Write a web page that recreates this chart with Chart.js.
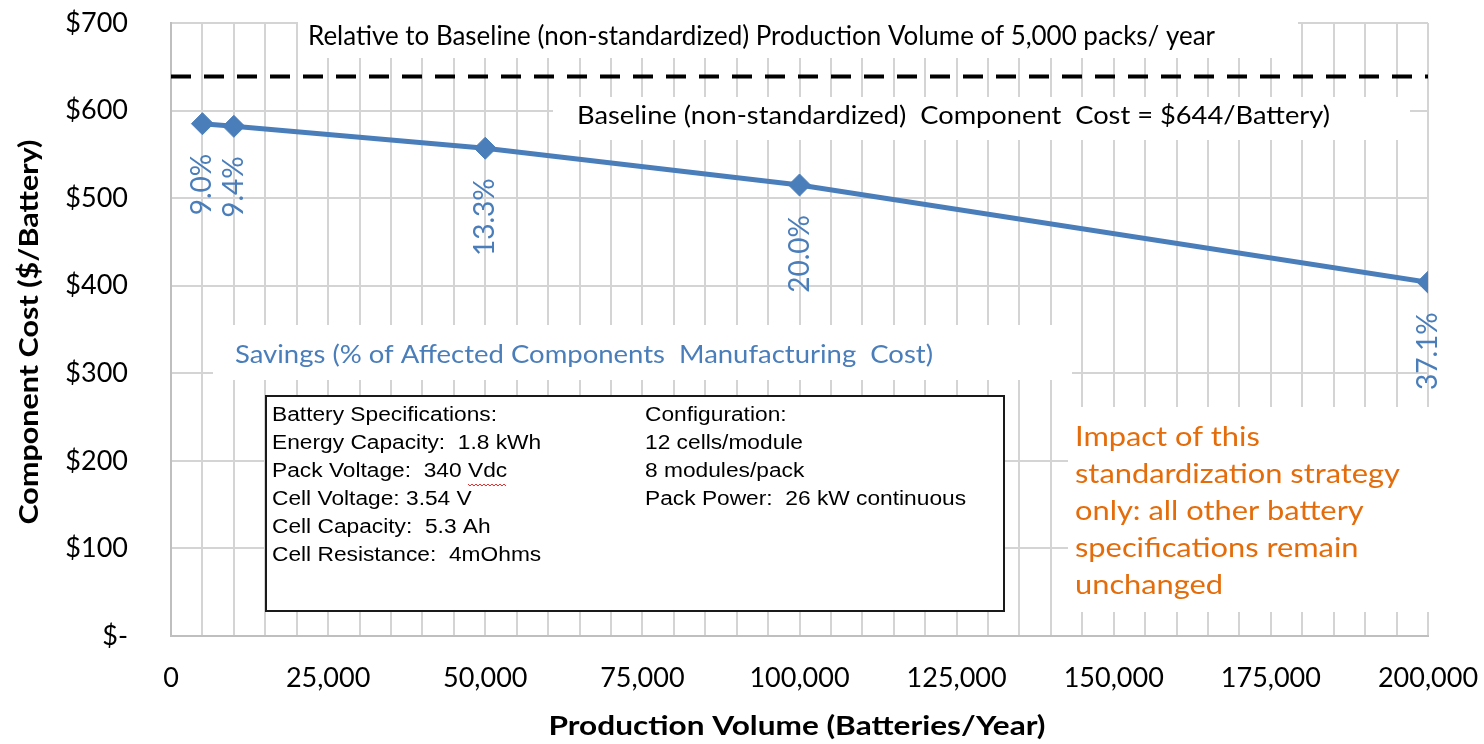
<!DOCTYPE html>
<html><head><meta charset="utf-8">
<script src="https://cdn.jsdelivr.net/npm/chart.js@4.4.0/dist/chart.umd.min.js"></script>
<style>html,body{margin:0;padding:0;background:#fff;}#wrap{position:relative;width:1484px;height:744px;}</style>
</head><body><div id="wrap"><canvas id="c" width="1484" height="744"></canvas></div>
<script>
// ---- data ----
const volumes = [5000, 10000, 50000, 100000, 200000];
const costs = [585, 582, 557, 515, 404];
const savingsLabels = ['9.0%', '9.4%', '13.3%', '20.0%', '37.1%'];
const baselineVolumes = [0, 200000];
const baselineCosts = [639, 639];
const xMin = 0, xMax = 200000, xGridStep = 5000, xLabelStep = 25000;
const yMin = 0, yMax = 700, yStep = 100;

const specLeft = ['Battery Specifications:', 'Energy Capacity:  1.8 kWh', 'Pack Voltage:  340 Vdc', 'Cell Voltage: 3.54 V', 'Cell Capacity:  5.3 Ah', 'Cell Resistance:  4mOhms'];
const specRight = ['Configuration:', '12 cells/module', '8 modules/pack', 'Pack Power:  26 kW continuous'];
const impactLines = ['Impact of this', 'standardization strategy', 'only: all other battery', 'specifications remain', 'unchanged'];

const BLUE = '#4a7ebb', ORANGE = '#e46c0a', GRID = '#d4d4d4';
const SANS = 'Lato, "Open Sans", sans-serif';

function fitText(ctx, text, x, y, w, font, color) {
  ctx.save();
  ctx.font = font; ctx.fillStyle = color; ctx.textBaseline = 'middle'; ctx.textAlign = 'left';
  const m = ctx.measureText(text).width;
  ctx.translate(x, y); ctx.scale(w / m, 1); ctx.fillText(text, 0, 0);
  ctx.restore();
}

const overlay = {
  id: 'overlay',
  beforeDatasetsDraw(chart) {
    const ctx = chart.ctx;
    ctx.save();
    ctx.fillStyle = '#fff';
    ctx.fillRect(298, 0, 1000, 58);
    ctx.fillRect(553, 97, 857, 43);
    ctx.fillRect(213, 325, 859, 55);
    ctx.fillRect(1068, 407, 416, 205);
    ctx.fillRect(266, 396, 738, 215);
    ctx.strokeStyle = '#1a1a1a'; ctx.lineWidth = 2;
    ctx.strokeRect(266, 396, 738, 215);
    ctx.restore();

    fitText(ctx, 'Relative to Baseline (non-standardized) Production Volume of 5,000 packs/ year', 308, 37, 907, '26px "Liberation Sans Narrow", ' + SANS, '#000');
    fitText(ctx, 'Baseline (non-standardized)  Component  Cost = $644/Battery)', 577, 116, 753, '25px ' + SANS, '#000');
    fitText(ctx, 'Savings (% of Affected Components  Manufacturing  Cost)', 235, 355, 698, '25px ' + SANS, BLUE);

    ctx.save();
    ctx.font = '20px "Liberation Sans", Arial, sans-serif'; ctx.fillStyle = '#000';
    ctx.textBaseline = 'middle'; ctx.textAlign = 'left';
    const sx = 225 / ctx.measureText(specLeft[0]).width;
    const drawCol = (lines, x0) => lines.forEach((t, i) => {
      ctx.save(); ctx.translate(x0, 415 + 28 * i); ctx.scale(sx, 1); ctx.fillText(t, 0, 0); ctx.restore();
    });
    drawCol(specLeft, 272);
    drawCol(specRight, 645);
    const pre = ctx.measureText('Pack Voltage:  340 ').width * sx;
    const wv = ctx.measureText('Vdc').width * sx;
    ctx.strokeStyle = '#e03030'; ctx.lineWidth = 1;
    ctx.beginPath();
    for (let x = 0; x <= wv; x += 2) {
      const yy = 484 + ((x / 2) % 2 === 0 ? 0 : 2);
      if (x === 0) ctx.moveTo(272 + pre + x, yy); else ctx.lineTo(272 + pre + x, yy);
    }
    ctx.stroke();
    ctx.restore();

    ctx.save();
    ctx.font = '27px ' + SANS;
    const widest = ctx.measureText('standardization strategy').width;
    const s = 325 / widest;
    ctx.fillStyle = ORANGE; ctx.textBaseline = 'middle'; ctx.textAlign = 'left';
    impactLines.forEach((t, i) => {
      ctx.save(); ctx.translate(1075, 437 + 37 * i); ctx.scale(s, 1); ctx.fillText(t, 0, 0); ctx.restore();
    });
    ctx.restore();
  },
  afterDatasetsDraw(chart) {
    const ctx = chart.ctx;
    const meta = chart.getDatasetMeta(0);
    ctx.save();
    ctx.font = '28px ' + SANS; ctx.fillStyle = BLUE;
    ctx.textAlign = 'right'; ctx.textBaseline = 'middle';
    meta.data.forEach((pt, i) => {
      ctx.save();
      ctx.translate(pt.x, pt.y + 30);
      ctx.rotate(-Math.PI / 2);
      ctx.fillText(savingsLabels[i], 0, 0);
      ctx.restore();
    });
    ctx.restore();
  },
  afterDraw(chart) {
    const ctx = chart.ctx;
    ctx.save();
    ctx.font = 'bold 26px ' + SANS;
    ctx.textBaseline = 'middle';
    const t1 = 'Component Cost ($/Battery)';
    const w1 = ctx.measureText(t1).width;
    ctx.translate(30, 332); ctx.rotate(-Math.PI / 2);
    ctx.scale(385 / w1, 1);
    ctx.textAlign = 'center'; ctx.fillStyle = '#000';
    ctx.fillText(t1, 0, 0);
    ctx.restore();
    ctx.save();
    ctx.font = 'bold 26px ' + SANS;
    ctx.textBaseline = 'middle'; ctx.textAlign = 'center'; ctx.fillStyle = '#000';
    const t2 = 'Production Volume (Batteries/Year)';
    const w2 = ctx.measureText(t2).width;
    ctx.translate(797, 727); ctx.scale(497 / w2, 1);
    ctx.fillText(t2, 0, 0);
    ctx.restore();
  }
};

new Chart(document.getElementById('c'), {
  type: 'line',
  data: {
    datasets: [
      {
        data: volumes.map((v, i) => ({x: v, y: costs[i]})),
        borderColor: BLUE, backgroundColor: BLUE, borderWidth: 5,
        pointStyle: 'rectRot', pointRadius: 11, pointBorderWidth: 1,
        pointBackgroundColor: BLUE, tension: 0
      },
      {
        data: baselineVolumes.map((v, i) => ({x: v, y: baselineCosts[i]})),
        borderColor: '#000', borderWidth: 4, borderDash: [20, 13],
        pointRadius: 0, tension: 0, clip: false
      }
    ]
  },
  options: {
    responsive: false, animation: false, devicePixelRatio: 1,
    layout: {padding: {top: 23, right: 56, left: 0, bottom: 0}},
    plugins: {legend: {display: false}, tooltip: {enabled: false}},
    scales: {
      x: {
        type: 'linear', min: xMin, max: xMax,
        afterFit(s) { s.height = 108; s.paddingLeft = 0; s.paddingRight = 0; },
        grid: {color: GRID, lineWidth: 2, drawTicks: false},
        border: {color: '#bfbfbf', width: 2},
        ticks: {
          stepSize: xGridStep, autoSkip: false, maxRotation: 0, padding: 26,
          color: '#000', font: {family: SANS, size: 27},
          callback: v => (v % xLabelStep === 0 ? v.toLocaleString('en-US') : '')
        }
      },
      y: {
        min: yMin, max: yMax,
        afterFit(s) { s.width = 171; s.paddingTop = 0; s.paddingBottom = 0; },
        grid: {color: GRID, lineWidth: 2, drawTicks: false},
        border: {color: '#bfbfbf', width: 2},
        ticks: {
          stepSize: yStep, padding: 43, color: '#000', font: {family: SANS, size: 27},
          callback: v => (v === 0 ? '$-' : '$' + v)
        }
      }
    }
  },
  plugins: [overlay]
});
</script></body></html>
